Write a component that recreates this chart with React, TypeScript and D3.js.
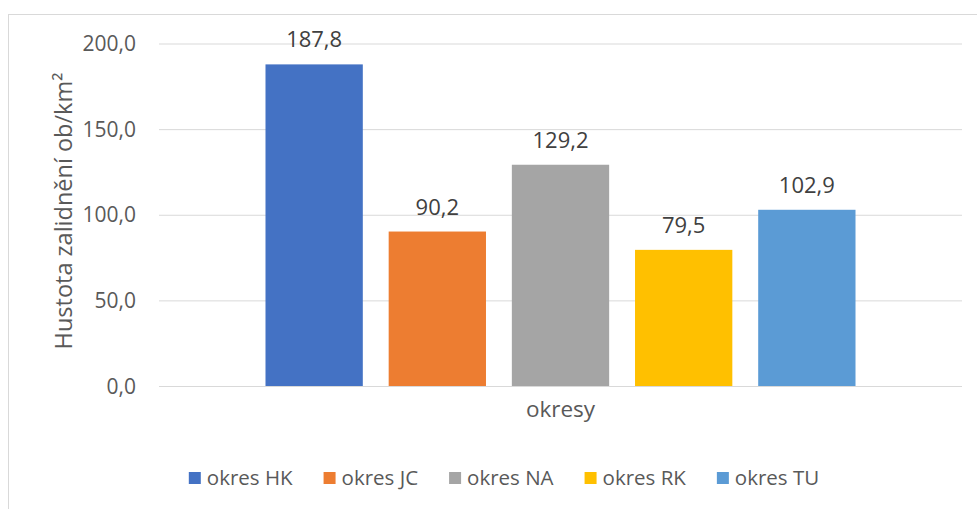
import * as d3 from 'd3';
import React, { useEffect, useRef } from 'react';

const categories = ['okresy'];
const seriesNames = ['okres HK', 'okres JC', 'okres NA', 'okres RK', 'okres TU'];
const seriesValues = [187.8, 90.2, 129.2, 79.5, 102.9];
const seriesColors = ['#4472C4', '#ED7D31', '#A5A5A5', '#FFC000', '#5B9BD5'];
const yTicks = [0, 50, 100, 150, 200];
const yTitle = 'Hustota zalidnění ob/km²';

export default function App() {
    const svgRef = useRef(null);
    const width = 977;
    const height = 509;
    const plot = { left: 159, right: 962, top: 43.5, bottom: 386 };
    const font = '"Open Sans", sans-serif';

    useEffect(() => {
        const svg = d3.select(svgRef.current);
        svg.selectAll('*').remove();

        // chart frame (cropped on right/bottom like the original)
        svg.append('rect')
            .attr('x', 8.5).attr('y', 14.5)
            .attr('width', 1100).attr('height', 600)
            .attr('fill', 'white')
            .attr('stroke', '#d9d9d9');

        const y = d3.scaleLinear().domain([0, 200]).range([plot.bottom, plot.top]);
        const x0 = d3.scaleBand().domain(categories).range([plot.left, plot.right]).paddingOuter(0.1805);
        const x1 = d3.scaleBand().domain(seriesNames).range([0, x0.bandwidth()]).paddingInner(0.21);
        const fmt = v => d3.format('.1f')(v).replace('.', ',');

        // gridlines
        svg.append('g')
            .attr('transform', `translate(${plot.left},0)`)
            .call(d3.axisLeft(y).tickValues(yTicks).tickSize(-(plot.right - plot.left)).tickFormat(''))
            .call(g => g.select('.domain').remove())
            .selectAll('.tick line')
            .attr('stroke', '#d9d9d9');

        // y tick labels
        svg.append('g')
            .selectAll('text')
            .data(yTicks)
            .enter()
            .append('text')
            .attr('x', 136)
            .attr('y', d => y(d))
            .attr('dy', '0.36em')
            .attr('text-anchor', 'end')
            .attr('font-family', font)
            .attr('font-size', 21)
            .attr('fill', '#595959')
            .text(fmt);

        const data = seriesNames.map((name, i) => ({ name, value: seriesValues[i], color: seriesColors[i] }));

        const group = svg.append('g')
            .attr('transform', `translate(${x0(categories[0])},0)`);

        group.selectAll('rect')
            .data(data)
            .enter()
            .append('rect')
            .attr('x', d => x1(d.name))
            .attr('y', d => y(d.value))
            .attr('width', x1.bandwidth())
            .attr('height', d => y(0) - y(d.value))
            .attr('fill', d => d.color);

        group.selectAll('text.val')
            .data(data)
            .enter()
            .append('text')
            .attr('class', 'val')
            .attr('x', d => x1(d.name) + x1.bandwidth() / 2)
            .attr('y', d => y(d.value) - 17)
            .attr('text-anchor', 'middle')
            .attr('font-family', font)
            .attr('font-size', 22)
            .attr('fill', '#404040')
            .text(d => fmt(d.value));

        // axis titles
        svg.append('text')
            .attr('x', (plot.left + plot.right) / 2)
            .attr('y', 417)
            .attr('text-anchor', 'middle')
            .attr('font-family', font)
            .attr('font-size', 22.5)
            .attr('fill', '#595959')
            .text(categories[0]);

        svg.append('text')
            .attr('transform', `translate(72,211) rotate(-90)`)
            .attr('text-anchor', 'middle')
            .attr('font-family', font)
            .attr('font-size', 23.5)
            .attr('fill', '#595959')
            .text(yTitle);

        // legend
        const legend = svg.append('g');
        const items = legend.selectAll('g')
            .data(data)
            .enter()
            .append('g');
        items.append('rect')
            .attr('y', 472)
            .attr('width', 12)
            .attr('height', 12)
            .attr('fill', d => d.color);
        items.append('text')
            .attr('x', 18)
            .attr('y', 485)
            .attr('font-family', font)
            .attr('font-size', 20.5)
            .attr('fill', '#595959')
            .text(d => d.name);

        let offset = 0;
        const positions = [];
        items.each(function () {
            const w = d3.select(this).select('text').node().getComputedTextLength();
            positions.push(offset);
            offset += 18 + w + 31;
        });
        const total = offset - 31;
        const start = 504 - total / 2;
        items.attr('transform', (d, i) => `translate(${start + positions[i]},0)`);
    }, []);

    return (
        <svg ref={svgRef} width={width} height={height}
            style={{ position: 'absolute', left: 0, top: 0, background: 'white' }} />
    );
}
